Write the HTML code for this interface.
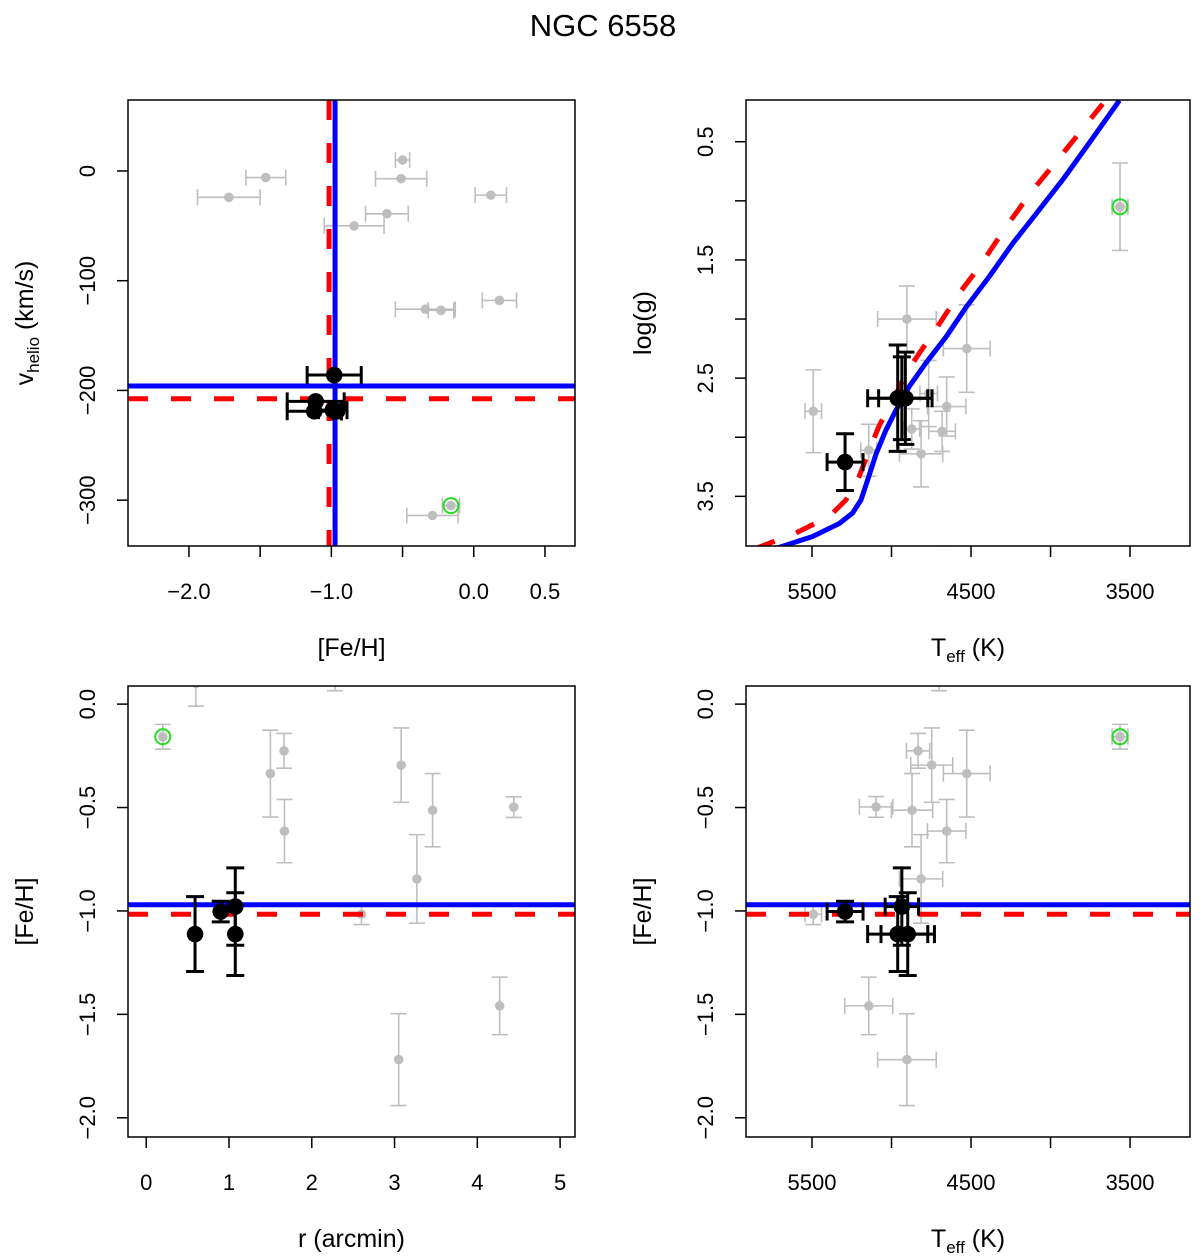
<!DOCTYPE html>
<html><head><meta charset="utf-8"><style>
body{margin:0;background:#fff}
svg{display:block;font-family:"Liberation Sans",Helvetica,sans-serif}
</style></head><body>
<svg id="fig" width="1200" height="1257" viewBox="0 0 1200 1257" xmlns="http://www.w3.org/2000/svg">
<text x="603" y="36" font-size="31" text-anchor="middle">NGC 6558</text>
</svg>
<script>
// ---- Panel 1: v_helio vs [Fe/H] ----
const p1GrayFeh=[-0.50,-0.51,-1.46,-1.72,0.12,-0.61,-0.84,0.18,-0.34,-0.23,-0.29,-0.16];
const p1GrayV=[10,-7,-6,-24,-22,-39,-50,-118,-126,-127,-314,-305];
const p1GrayFehErr=[0.05,0.18,0.14,0.22,0.11,0.15,0.21,0.12,0.21,0.09,0.18,0.06];
const p1GrayVErr=[0,0,0,0,0,0,0,0,0,0,0,0];
const p1GrayGreen=[0,0,0,0,0,0,0,0,0,0,0,1];
const p1BlackFeh=[-0.98,-1.11,-1.12,-0.99,-0.96];
const p1BlackV=[-186,-210,-219,-218,-219];
const p1BlackFehErr=[0.19,0.2,0.19,0.1,0.03];
const p1BlackVErr=[0,0,0,0,0];
const p1BlueFeh=-0.974, p1RedFeh=-1.016, p1BlueV=-196, p1RedV=-207.6;
const p1XTicks=[-2,-1.5,-1,-0.5,0,0.5];
const p1XLabels=["−2.0","","−1.0","","0.0","0.5"];
const p1YTicks=[0,-100,-200,-300];
const p1YLabels=["0","−100","−200","−300"];

// ---- Panel 2: log(g) vs Teff ----
const p2GrayT=[3563,4903,4527,5492,4653,4766,4682,4873,4814,5143,4689];
const p2GrayG=[1.05,2.0,2.25,2.78,2.74,2.63,2.95,2.93,3.14,3.11,4.25];
const p2GrayTErr=[50,184,147,52,121,55,84,50,136,50,50];
const p2GrayGErr=[0.37,0.28,0.37,0.35,0.25,0.28,0.17,0.17,0.28,0.22,0.33];
const p2GrayGreen=[1,0,0,0,0,0,0,0,0,0,0];
const p2BlackT=[5292,4961,4913,4935];
const p2BlackG=[3.21,2.67,2.67,2.67];
const p2BlackTErr=[113,189,168,0];
const p2BlackGErr=[0.24,0.45,0.39,0.35];
const p2BlueT=[5747,5496,5328,5244,5192,5150,5097,5035,4972,4888,4783,4657,4531,4385,4238,4091,3923,3756,3567];
const p2BlueG=[3.95,3.84,3.73,3.64,3.53,3.36,3.14,2.94,2.77,2.57,2.37,2.15,1.90,1.64,1.36,1.11,0.82,0.51,0.15];
const p2RedT=[5852,5601,5391,5286,5203,5140,5077,4992,4909,4825,4699,4573,4448,4280,4112,3923,3672];
const p2RedG=[3.94,3.81,3.67,3.53,3.33,3.11,2.90,2.69,2.46,2.29,2.04,1.78,1.56,1.22,0.91,0.60,0.18];
const p2XTicks=[5500,5000,4500,4000,3500];
const p2XLabels=["5500","","4500","","3500"];
const p2YTicks=[0.5,1,1.5,2,2.5,3,3.5];
const p2YLabels=["0.5","","1.5","","2.5","","3.5"];

// ---- Panel 3: [Fe/H] vs r ----
const p3GrayR=[0.20,0.60,2.28,1.50,1.665,1.67,3.08,3.46,3.27,2.60,4.44,4.27,3.05];
const p3GrayFeh=[-0.158,0.10,0.13,-0.336,-0.226,-0.614,-0.295,-0.513,-0.845,-1.016,-0.498,-1.459,-1.719];
const p3GrayFehErr=[0.06,0.11,0.065,0.21,0.084,0.153,0.18,0.177,0.214,0.05,0.05,0.139,0.222];
const p3GrayGreen=[1,0,0,0,0,0,0,0,0,0,0,0,0];
const p3BlackR=[0.59,0.90,1.076,1.076];
const p3BlackFeh=[-1.112,-1.003,-0.979,-1.112];
const p3BlackFehErr=[0.181,0.05,0.187,0.2];
const p3Blue=-0.970, p3Red=-1.016;
const p3XTicks=[0,1,2,3,4,5];
const p3XLabels=["0","1","2","3","4","5"];
const fehTicks=[0,-0.5,-1,-1.5,-2];
const fehLabels=["0.0","−0.5","−1.0","−1.5","−2.0"];

// ---- Panel 4: [Fe/H] vs Teff ----
const p4GrayT=[3563,4700,4833,4747,4527,5097,4871,4653,4814,5492,5143,4903];
const p4GrayFeh=[-0.158,0.13,-0.226,-0.295,-0.336,-0.497,-0.513,-0.614,-0.845,-1.016,-1.459,-1.719];
const p4GrayTErr=[50,50,73,132,147,105,130,121,136,52,151,184];
const p4GrayFehErr=[0.06,0.065,0.084,0.18,0.21,0.05,0.177,0.153,0.214,0.05,0.139,0.222];
const p4GrayGreen=[1,0,0,0,0,0,0,0,0,0,0,0];
const p4BlackT=[5292,4935,4961,4898];
const p4BlackFeh=[-1.003,-0.979,-1.112,-1.112];
const p4BlackTErr=[113,105,189,168];
const p4BlackFehErr=[0.05,0.187,0.181,0.2];

const NS="http://www.w3.org/2000/svg";
const fig=document.getElementById('fig');
function mk(tag,attrs,parent){const e=document.createElementNS(NS,tag);for(const k in attrs)e.setAttribute(k,attrs[k]);(parent||fig).appendChild(e);return e;}

function panel(id,box,xdom,ydom){
  const g=mk('g',{});
  
  
  const cp=mk('clipPath',{id:'clip-'+id},g);
  mk('rect',{x:box.x0,y:box.y0,width:box.x1-box.x0,height:box.y1-box.y0},cp);
  const sx=v=>box.x0+(v-xdom[0])/(xdom[1]-xdom[0])*(box.x1-box.x0);
  const sy=v=>box.y0+(v-ydom[0])/(ydom[1]-ydom[0])*(box.y1-box.y0);
  const plot=mk('g',{'clip-path':'url(#clip-'+id+')'},g);
  return {g,plot,sx,sy,box};
}
function axes(P,xt,xl,yt,yl,xtitleHTML,ytitleHTML,xname,yname){
  const {g,sx,sy,box}=P;
  const frame=mk('rect',{x:box.x0,y:box.y0,width:box.x1-box.x0,height:box.y1-box.y0,fill:'none',stroke:'#000','stroke-width':1.5},g);
  
  
  xt.forEach((v,i)=>{const x=sx(v);
    mk('line',{x1:x,x2:x,y1:box.y1,y2:box.y1+11,stroke:'#000','stroke-width':1.5},g);
    if(xl[i]){const t=mk('text',{x:x,y:box.y1+53,'font-size':22,'text-anchor':'middle'},g);t.textContent=xl[i];
      
      }
  });
  yt.forEach((v,i)=>{const y=sy(v);
    mk('line',{x1:box.x0-11,x2:box.x0,y1:y,y2:y,stroke:'#000','stroke-width':1.5},g);
    if(yl[i]){const t=mk('text',{x:box.x0-33,y:y,'font-size':22,'text-anchor':'middle',transform:`rotate(-90 ${box.x0-33} ${y})`},g);t.textContent=yl[i];
      
      }
  });
  const xt_=mk('text',{x:(box.x0+box.x1)/2,y:box.y1+110,'font-size':25,'text-anchor':'middle'},g);
  xt_.innerHTML=xtitleHTML;
  
  
  const yx=box.x0-95, ym=(box.y0+box.y1)/2;
  const yt_=mk('text',{x:yx,y:ym,'font-size':25,'text-anchor':'middle',transform:`rotate(-90 ${yx} ${ym})`},g);
  yt_.innerHTML=ytitleHTML;
  
  
}
function errbar(P,x,y,xe,ye,col,w,cap){
  const {plot,sx,sy}=P;
  if(xe>0){const a=sx(x-xe),b=sx(x+xe),yy=sy(y);
    mk('line',{x1:a,x2:b,y1:yy,y2:yy,stroke:col,'stroke-width':w},plot);
    mk('line',{x1:a,x2:a,y1:yy-cap,y2:yy+cap,stroke:col,'stroke-width':w},plot);
    mk('line',{x1:b,x2:b,y1:yy-cap,y2:yy+cap,stroke:col,'stroke-width':w},plot);}
  if(ye>0){const a=sy(y-ye),b=sy(y+ye),xx=sx(x);
    mk('line',{x1:xx,x2:xx,y1:a,y2:b,stroke:col,'stroke-width':w},plot);
    mk('line',{x1:xx-cap,x2:xx+cap,y1:a,y2:a,stroke:col,'stroke-width':w},plot);
    mk('line',{x1:xx-cap,x2:xx+cap,y1:b,y2:b,stroke:col,'stroke-width':w},plot);}
}
function grayPts(P,xs,ys,xe,ye,green){
  xs.forEach((x,i)=>{errbar(P,x,ys[i],xe[i],ye[i],'#bebebe',1.6,8);
    const c=mk('circle',{cx:P.sx(x),cy:P.sy(ys[i]),r:4.8,fill:'#bebebe'},P.plot);
    
    
    if(green[i]){const r=mk('circle',{cx:P.sx(x),cy:P.sy(ys[i]),r:7.5,fill:'none',stroke:'#22dd22','stroke-width':2},P.plot);
      
      }
  });
}
function blackPts(P,xs,ys,xe,ye){
  xs.forEach((x,i)=>errbar(P,x,ys[i],xe[i],ye[i],'#000',3,9));
  xs.forEach((x,i)=>{const c=mk('circle',{cx:P.sx(x),cy:P.sy(ys[i]),r:8.3,fill:'#000'},P.plot);
    
    });
}
function hline(P,v,col,dash,name){const y=P.sy(v);
  const l=mk('line',{x1:P.box.x0,x2:P.box.x1,y1:y,y2:y,stroke:col,'stroke-width':5,'stroke-dasharray':dash||'none'},P.plot);
  
  }
function vline(P,v,col,dash,name){const x=P.sx(v);
  const l=mk('line',{x1:x,x2:x,y1:P.box.y0,y2:P.box.y1,stroke:col,'stroke-width':5,'stroke-dasharray':dash||'none'},P.plot);
  
  }
function curve(P,xs,ys,col,dash,name){
  const d=xs.map((x,i)=>(i?'L':'M')+P.sx(x).toFixed(1)+','+P.sy(ys[i]).toFixed(1)).join(' ');
  const p=mk('path',{d:d,fill:'none',stroke:col,'stroke-width':5,'stroke-dasharray':dash||'none','stroke-linejoin':'round'},P.plot);
  
  }
const zeros=n=>new Array(n).fill(0);
const DASH='20 23';

// Panel 1
const P1=panel('vhelio-vs-feh-panel',{x0:128,y0:100,x1:575,y1:546},[-2.428,0.711],[64.7,-341.8]);
grayPts(P1,p1GrayFeh,p1GrayV,p1GrayFehErr,p1GrayVErr,p1GrayGreen);
vline(P1,p1BlueFeh,'#0000ff',null,'mean-feh-line');
hline(P1,p1BlueV,'#0000ff',null,'mean-velocity-line');
vline(P1,p1RedFeh,'#ff0000',DASH,'literature-feh-line');
hline(P1,p1RedV,'#ff0000',DASH,'literature-velocity-line');
blackPts(P1,p1BlackFeh,p1BlackV,p1BlackFehErr,p1BlackVErr);
axes(P1,p1XTicks,p1XLabels,p1YTicks,p1YLabels,'[Fe/H]','v<tspan font-size="17" dy="6">helio</tspan><tspan dy="-6"> (km/s)</tspan>','x-axis-title','y-axis-title');

// Panel 2
const P2=panel('logg-vs-teff-panel',{x0:746,y0:100,x1:1190,y1:546},[5915,3123],[0.147,3.92]);
grayPts(P2,p2GrayT,p2GrayG,p2GrayTErr,p2GrayGErr,p2GrayGreen);
curve(P2,p2RedT,p2RedG,'#ff0000',DASH,'isochrone-red-dashed');
curve(P2,p2BlueT,p2BlueG,'#0000ff',null,'isochrone-blue');
blackPts(P2,p2BlackT,p2BlackG,p2BlackTErr,p2BlackGErr);
axes(P2,p2XTicks,p2XLabels,p2YTicks,p2YLabels,'T<tspan font-size="17" dy="6">eff</tspan><tspan dy="-6"> (K)</tspan>','log(g)','x-axis-title','y-axis-title');

// Panel 3
const P3=panel('feh-vs-radius-panel',{x0:128,y0:686,x1:575,y1:1137},[-0.22,5.18],[0.0876,-2.093]);
grayPts(P3,p3GrayR,p3GrayFeh,zeros(p3GrayR.length),p3GrayFehErr,p3GrayGreen);
hline(P3,p3Blue,'#0000ff',null,'mean-feh-line');
hline(P3,p3Red,'#ff0000',DASH,'literature-feh-line');
blackPts(P3,p3BlackR,p3BlackFeh,zeros(p3BlackR.length),p3BlackFehErr);
axes(P3,p3XTicks,p3XLabels,fehTicks,fehLabels,'r (arcmin)','[Fe/H]','x-axis-title','y-axis-title');

// Panel 4
const P4=panel('feh-vs-teff-panel',{x0:746,y0:686,x1:1190,y1:1137},[5915,3123],[0.0876,-2.093]);
grayPts(P4,p4GrayT,p4GrayFeh,p4GrayTErr,p4GrayFehErr,p4GrayGreen);
hline(P4,p3Blue,'#0000ff',null,'mean-feh-line');
hline(P4,p3Red,'#ff0000',DASH,'literature-feh-line');
blackPts(P4,p4BlackT,p4BlackFeh,p4BlackTErr,p4BlackFehErr);
axes(P4,p2XTicks,p2XLabels,fehTicks,fehLabels,'T<tspan font-size="17" dy="6">eff</tspan><tspan dy="-6"> (K)</tspan>','[Fe/H]','x-axis-title','y-axis-title');
</script>
</body></html>
